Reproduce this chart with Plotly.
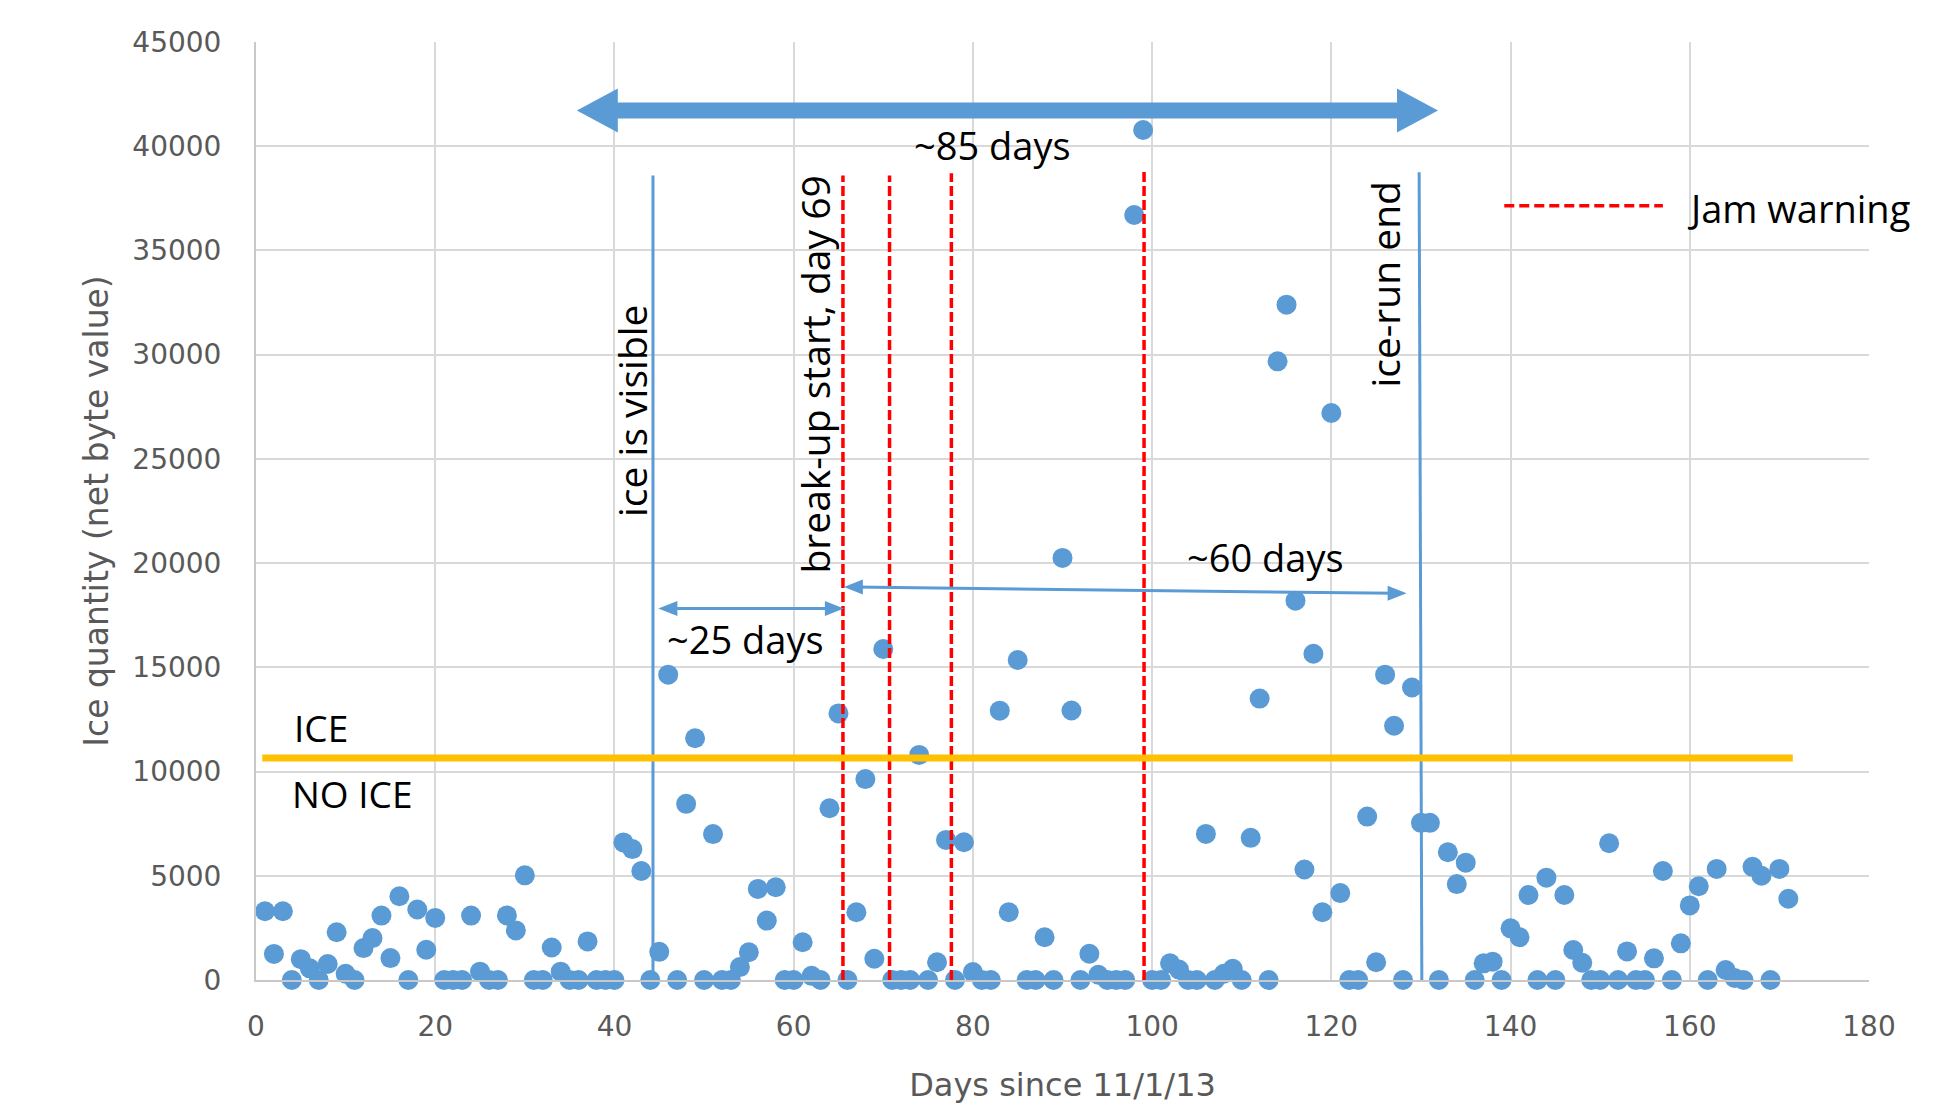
import plotly.graph_objects as go

# ---------------- data ----------------
DAYS = list(range(1, 172))
ICE_QTY = [
    3300, 1250, 3300, 0, 1000, 560, 0, 770, 2290, 300,            # 1-10
    0, 1530, 2010, 3090, 1050, 4020, 0, 3380, 1450, 2980,         # 11-20
    0, 0, 0, 3090, 400, 0, 0, 3100, 2380, 5020,                   # 21-30
    0, 0, 1560, 400, 0, 0, 1850, 0, 0, 0,                         # 31-40
    6600, 6280, 5230, 0, 1350, 14650, 0, 8450, 11600, 0,          # 41-50
    7000, 0, 0, 620, 1330, 4370, 2850, 4450, 0, 0,                # 51-60
    1810, 200, 0, 8240, 12790, 0, 3250, 9640, 1020, 15880,        # 61-70
    0, 0, 0, 10800, 0, 850, 6720, 0, 6610, 380,                   # 71-80
    0, 0, 12920, 3250, 15350, 0, 0, 2050, 0, 20250,               # 81-90
    12930, 0, 1260, 250, 0, 0, 0, 36700, 40780, 0,                # 91-100
    0, 800, 500, 0, 0, 7010, 0, 300, 540, 0,                      # 101-110
    6820, 13500, 0, 29680, 32400, 18200, 5300, 15650, 3250, 27200,  # 111-120
    4170, 0, 0, 7840, 850, 14650, 12200, 0, 14030, 7540,          # 121-130
    7540, 0, 6130, 4600, 5630, 0, 800, 880, 0, 2480,              # 131-140
    2050, 4080, 0, 4910, 0, 4080, 1440, 830, 0, 0,                # 141-150
    6560, 0, 1370, 0, 0, 1040, 5230, 0, 1760, 3580,               # 151-160
    4500, 0, 5330, 480, 100, 0, 5430, 5000, 0, 5330,              # 161-170
    3900,                                                          # 171
]
X_TICKS = [0, 20, 40, 60, 80, 100, 120, 140, 160, 180]
Y_TICKS = [0, 5000, 10000, 15000, 20000, 25000, 30000, 35000, 40000, 45000]

JAM_DAYS = [65.5, 70.7, 77.6, 99.1]
JAM_TOPS = [38600, 38600, 38700, 38900]
ICE_VISIBLE_DAY = 44.3
ICE_VISIBLE_TOP = 38600
ICE_RUN_END_DAY = (130.1, 129.8)   # bottom, top
ICE_RUN_END_TOP = 38750
ICE_THRESHOLD = 10650
ICE_LINE_SPAN = (0.7, 171.5)

BIG_ARROW = dict(x0=35.8, x1=131.9, y=41710)
ARROW_25 = dict(x0=44.9, x1=65.6, y0=17820, y1=17820)
ARROW_60 = dict(x0=65.6, x1=128.4, y0=18850, y1=18550)

# ---------------- layout constants ----------------
W, H = 1958, 1109
OFF = 8  # page body offset of the browser
ML, MR, MT, MB = 256 - OFF, 89 + OFF, 42 - OFF, 129 + OFF
XR = (0, 180)
YR = (0, 45000)
PX_X = (W - ML - MR) / (XR[1] - XR[0])      # px per day
PX_Y = (H - MT - MB) / (YR[1] - YR[0])      # px per unit

BLUE = "#5B9BD5"
RED = "#FF0000"
ORANGE = "#FFC000"
GRID = "#D9D9D9"
TXT = "#595959"
FONT = "Open Sans"
AXFONT = "DejaVu Sans"


def dx(px):
    return px / PX_X


def dy(px):
    return px / PX_Y


fig = go.Figure()
fig.add_trace(go.Scatter(
    x=DAYS, y=ICE_QTY, mode="markers",
    marker=dict(color=BLUE, size=20, line=dict(width=0)),
    cliponaxis=False, showlegend=False,
))

shapes = []
# jam warning lines
for d, top in zip(JAM_DAYS, JAM_TOPS):
    shapes.append(dict(type="line", xref="x", yref="y", x0=d, x1=d, y0=0, y1=top,
                       line=dict(color=RED, width=3.5, dash="10px,4px")))
# event lines
shapes.append(dict(type="line", xref="x", yref="y", x0=ICE_VISIBLE_DAY, x1=ICE_VISIBLE_DAY,
                   y0=0, y1=ICE_VISIBLE_TOP, line=dict(color=BLUE, width=3)))
shapes.append(dict(type="line", xref="x", yref="y", x0=ICE_RUN_END_DAY[0], x1=ICE_RUN_END_DAY[1],
                   y0=0, y1=ICE_RUN_END_TOP, line=dict(color=BLUE, width=3)))
# ice threshold
shapes.append(dict(type="line", xref="x", yref="y", x0=ICE_LINE_SPAN[0], x1=ICE_LINE_SPAN[1],
                   y0=ICE_THRESHOLD, y1=ICE_THRESHOLD, line=dict(color=ORANGE, width=7)))


def tri(tip_x, tip_y, direction, length_px, half_px):
    bx = tip_x - direction * dx(length_px)
    return dict(type="path", xref="x", yref="y",
                path=f"M {tip_x},{tip_y} L {bx},{tip_y + dy(half_px)} L {bx},{tip_y - dy(half_px)} Z",
                fillcolor=BLUE, line=dict(width=0))


# big double arrow
b = BIG_ARROW
shapes.append(dict(type="line", xref="x", yref="y", x0=b["x0"] + dx(30), x1=b["x1"] - dx(30),
                   y0=b["y"], y1=b["y"], line=dict(color=BLUE, width=16)))
shapes.append(tri(b["x0"], b["y"], -1, 41, 22))
shapes.append(tri(b["x1"], b["y"], 1, 41, 22))

# thin double arrows
for a in (ARROW_25, ARROW_60):
    shapes.append(dict(type="line", xref="x", yref="y", x0=a["x0"] + dx(10), x1=a["x1"] - dx(10),
                       y0=a["y0"], y1=a["y1"], line=dict(color=BLUE, width=3)))
    shapes.append(tri(a["x0"], a["y0"], -1, 19, 7.5))
    shapes.append(tri(a["x1"], a["y1"], 1, 19, 7.5))

# legend sample
shapes.append(dict(type="line", xref="x", yref="y", x0=139.3, x1=157.0, y0=37150, y1=37150,
                   line=dict(color=RED, width=3.5, dash="10px,5px")))

annos = []


def text(x, y, s, size=38, angle=0, xanchor="center", color="#000000"):
    annos.append(dict(x=x, y=y, xref="x", yref="y", text=s, showarrow=False,
                      textangle=angle, xanchor=xanchor, yanchor="middle",
                      font=dict(family=FONT, size=size, color=color)))


text(82.2, 40080, "~85 days")
text(54.6, 16360, "~25 days")
text(112.6, 20310, "~60 days")
text(4.0, 12100, "ICE", xanchor="left", size=37)
text(3.8, 8930, "NO ICE", xanchor="left", size=37)
text(41.9, 27320, "ice is visible", angle=-90, size=39)
text(62.3, 29060, "break-up start, day 69", angle=-90, size=39)
text(125.9, 33370, "ice-run end", angle=-90, size=39)
text(159.5, 37030, "Jam warning", xanchor="left")

fig.update_layout(
    width=W, height=H,
    margin=dict(l=ML, r=MR, t=MT, b=MB, autoexpand=False),
    plot_bgcolor="white", paper_bgcolor="white",
    font=dict(family=AXFONT, color=TXT),
    shapes=shapes, annotations=annos, showlegend=False,
)
fig.update_xaxes(
    range=list(XR), tickvals=X_TICKS, ticktext=[str(v) for v in X_TICKS],
    showgrid=True, gridcolor=GRID, gridwidth=1.5, zeroline=False,
    showline=True, linecolor="#C8C8C8", linewidth=2, ticks="",
    tickfont=dict(family=AXFONT, size=28, color=TXT), ticklabelstandoff=20,
    title=dict(text="Days since 11/1/13", font=dict(family=AXFONT, size=32, color=TXT), standoff=32),
    automargin=False,
)
fig.update_yaxes(
    range=list(YR), tickvals=Y_TICKS, ticktext=[str(v) for v in Y_TICKS],
    showgrid=True, gridcolor=GRID, gridwidth=1.5, zeroline=False,
    showline=True, linecolor="#C8C8C8", linewidth=2, ticks="",
    tickfont=dict(family=AXFONT, size=28, color=TXT), ticklabelstandoff=27,
    title=dict(text="Ice quantity (net byte value)", font=dict(family=AXFONT, size=33, color=TXT), standoff=14),
    automargin=False,
)

fig.write_html("out.html")
